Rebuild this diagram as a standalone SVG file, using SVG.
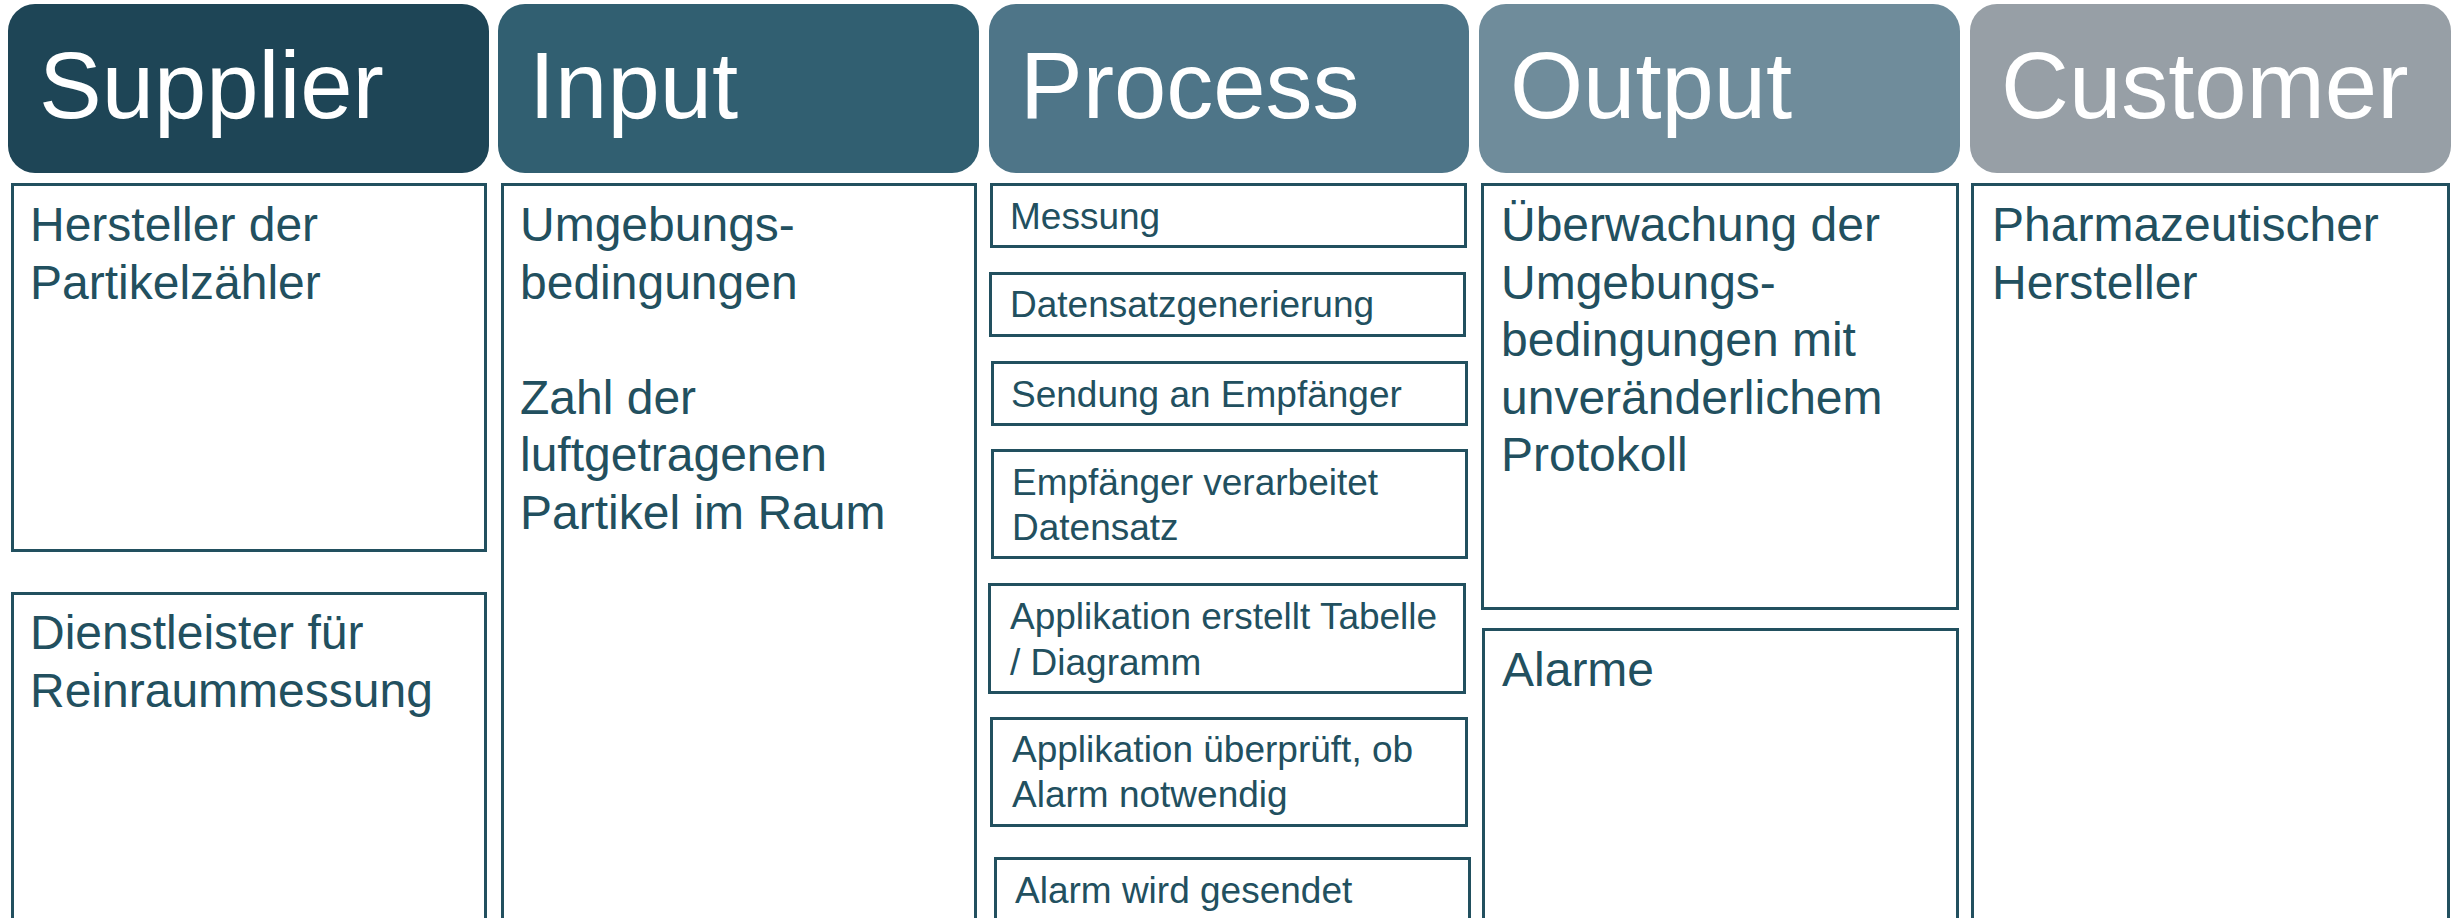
<svg xmlns="http://www.w3.org/2000/svg" width="2453" height="918" viewBox="0 0 2453 918">
<style>
.hd{font-family:"Liberation Sans",Arial,sans-serif;font-size:94px;fill:#ffffff}
.bx{fill:#ffffff;stroke:#22505f;stroke-width:3}
.t{font-family:"Liberation Sans",Arial,sans-serif;font-size:48px;fill:#22505f}
.s{font-family:"Liberation Sans",Arial,sans-serif;font-size:37px;fill:#22505f}
</style>
<rect x="0" y="0" width="2453" height="918" fill="#ffffff"/>
<g id="header-supplier">
<rect x="8" y="4" width="481" height="169" rx="27" fill="#1e4556"/>
<text class="hd" x="39" y="118">Supplier</text>
</g>
<g id="header-input">
<rect x="498" y="4" width="481" height="169" rx="27" fill="#315f71"/>
<text class="hd" x="529" y="118">Input</text>
</g>
<g id="header-process">
<rect x="989" y="4" width="480" height="169" rx="27" fill="#4e7588"/>
<text class="hd" x="1020" y="118">Process</text>
</g>
<g id="header-output">
<rect x="1479" y="4" width="481" height="169" rx="27" fill="#6f8c9b"/>
<text class="hd" x="1510" y="118">Output</text>
</g>
<g id="header-customer">
<rect x="1970" y="4" width="481" height="169" rx="27" fill="#979fa6"/>
<text class="hd" x="2001" y="118">Customer</text>
</g>
<g id="supplier-1">
<rect class="bx" x="12.5" y="184.5" width="473" height="366"/>
<text class="t" x="30" y="241">Hersteller der</text>
<text class="t" x="30" y="299">Partikelzähler</text>
</g>
<g id="supplier-2">
<rect class="bx" x="12.5" y="593.5" width="473" height="340"/>
<text class="t" x="30" y="649">Dienstleister für</text>
<text class="t" x="30" y="707">Reinraummessung</text>
</g>
<g id="input-1">
<rect class="bx" x="502.5" y="184.5" width="473" height="750"/>
<text class="t" x="520" y="241">Umgebungs-</text>
<text class="t" x="520" y="299">bedingungen</text>
<text class="t" x="520" y="414">Zahl der</text>
<text class="t" x="520" y="471">luftgetragenen</text>
<text class="t" x="520" y="529">Partikel im Raum</text>
</g>
<g id="process-1">
<rect class="bx" x="991.5" y="184.5" width="474" height="62"/>
<text class="s" x="1010" y="229">Messung</text>
</g>
<g id="process-2">
<rect class="bx" x="990.5" y="273.5" width="474" height="62"/>
<text class="s" x="1010" y="317">Datensatzgenerierung</text>
</g>
<g id="process-3">
<rect class="bx" x="992.5" y="362.5" width="474" height="62"/>
<text class="s" x="1011" y="407">Sendung an Empfänger</text>
</g>
<g id="process-4">
<rect class="bx" x="992.5" y="450.5" width="474" height="107"/>
<text class="s" x="1012" y="495">Empfänger verarbeitet</text>
<text class="s" x="1012" y="540">Datensatz</text>
</g>
<g id="process-5">
<rect class="bx" x="989.5" y="584.5" width="475" height="108"/>
<text class="s" x="1010" y="629">Applikation erstellt Tabelle</text>
<text class="s" x="1010" y="675">/ Diagramm</text>
</g>
<g id="process-6">
<rect class="bx" x="991.5" y="718.5" width="475" height="107"/>
<text class="s" x="1012" y="762">Applikation überprüft, ob</text>
<text class="s" x="1012" y="807">Alarm notwendig</text>
</g>
<g id="process-7">
<rect class="bx" x="995.5" y="858.5" width="474" height="80"/>
<text class="s" x="1015" y="903">Alarm wird gesendet</text>
</g>
<g id="output-1">
<rect class="bx" x="1482.5" y="184.5" width="475" height="424"/>
<text class="t" x="1501" y="241">Überwachung der</text>
<text class="t" x="1501" y="299">Umgebungs-</text>
<text class="t" x="1501" y="356">bedingungen mit</text>
<text class="t" x="1501" y="414">unveränderlichem</text>
<text class="t" x="1501" y="471">Protokoll</text>
</g>
<g id="output-2">
<rect class="bx" x="1483.5" y="629.5" width="474" height="310"/>
<text class="t" x="1502" y="686">Alarme</text>
</g>
<g id="customer-1">
<rect class="bx" x="1972.5" y="184.5" width="476" height="750"/>
<text class="t" x="1992" y="241">Pharmazeutischer</text>
<text class="t" x="1992" y="299">Hersteller</text>
</g>
<g id="connectors"></g>
</svg>
